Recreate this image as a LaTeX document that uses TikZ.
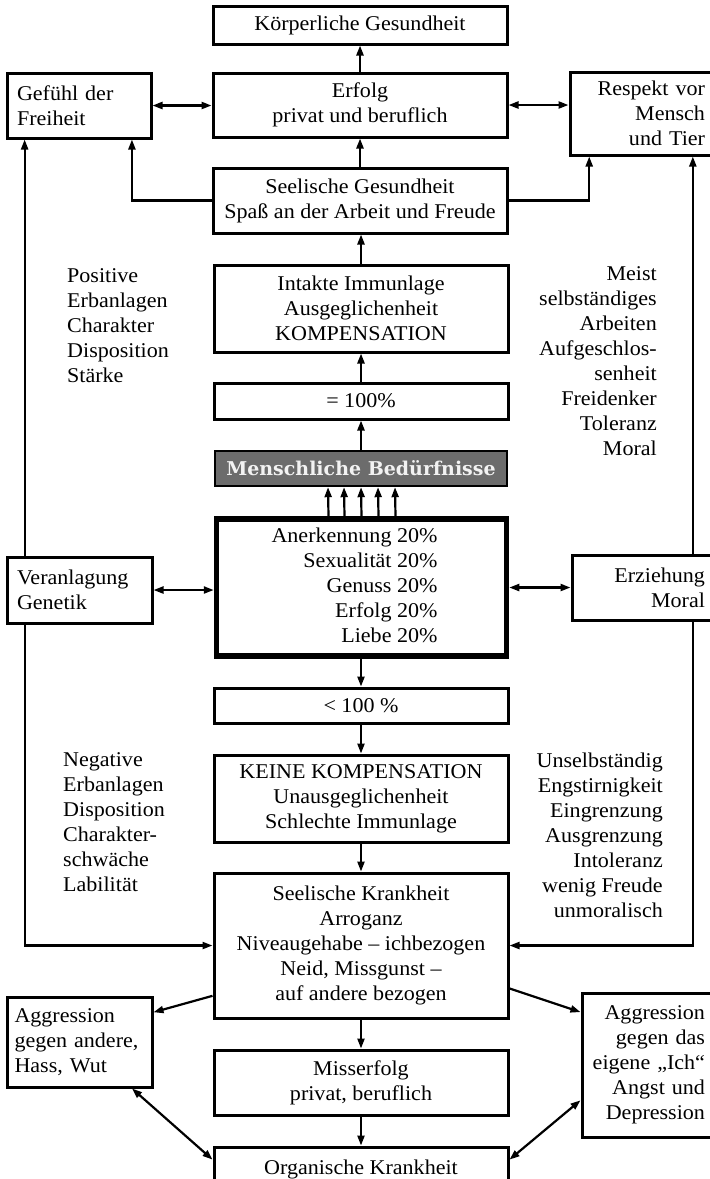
\documentclass[tikz,border=0pt]{standalone}
\usepackage{fontspec}
\usepackage{graphicx}
\setmainfont[FakeStretch=1.05]{Liberation Serif}
\newfontfamily\mbfont{DejaVu Serif}
\usetikzlibrary{arrows.meta,calc}
\definecolor{mbfill}{RGB}{108,108,108}
\definecolor{mbtext}{RGB}{242,242,242}
\newcommand\fsz{\fontsize{21}{25}\selectfont}
\begin{document}
\begin{tikzpicture}[x=1pt,y=-1pt,
  box/.style={draw, line width=3pt, inner sep=0pt, align=center, font=\fsz},
  lbox/.style={align=left},
  rbox/.style={align=right},
  ltxt/.style={anchor=west, align=left, inner sep=0pt, font=\fsz},
  rtxt/.style={anchor=east, align=right, inner sep=0pt, font=\fsz},
  mbox/.style={draw=black, line width=2.4pt, fill=mbfill, minimum width=292pt, minimum height=35pt, inner sep=0pt, text=mbtext, font=\mbfont\bfseries\fontsize{19}{22}\selectfont},
  arr/.style={line width=2.2pt, -{Triangle[length=10pt,width=7pt]}},
  dbl/.style={line width=2.2pt, {Triangle[length=10pt,width=7pt]}-{Triangle[length=10pt,width=7pt]}}
]
\useasboundingbox (0,0) rectangle (710,1179);

% boxes
\node[box, minimum width=294pt, minimum height=38pt] (kg) at (360,25) {Körperliche Gesundheit};
\node[box, minimum width=294pt, minimum height=64pt] (erf) at (360,105) {Erfolg\\privat und beruflich};
\node[box, lbox, minimum width=144pt, minimum height=65pt, text width=124pt] (gef) at (79,105.5) {Gefühl der\\Freiheit};
\node[box, rbox, minimum width=145pt, minimum height=83pt, text width=125pt] (res) at (642.5,113.5) {Respekt vor\\Mensch\\und Tier};
\node[box, minimum width=294pt, minimum height=65pt] (sg) at (360,200.5) {Seelische Gesundheit\\Spaß an der Arbeit und Freude};
\node[box, minimum width=294pt, minimum height=87pt] (imm) at (361,308.5) {Intakte Immunlage\\Ausgeglichenheit\\KOMPENSATION};
\node[box, minimum width=294pt, minimum height=36pt] (eq) at (361,401) {= 100\%};
\node[mbox] (mb) at (361,468.5) {Menschliche Bedürfnisse};
\node[box, line width=5.5pt, minimum width=290pt, minimum height=137pt] (main) at (361.5,587.5) {\begin{tabular}{@{}r@{}}Anerkennung 20\%\\Sexualität 20\%\\Genuss 20\%\\Erfolg 20\%\\Liebe 20\%\end{tabular}\hspace*{14pt}};
\node[box, lbox, minimum width=145pt, minimum height=66pt, text width=125pt] (ver) at (79.5,590) {Veranlagung\\Genetik};
\node[box, rbox, minimum width=143pt, minimum height=65pt, text width=123pt] (erz) at (643.5,587.5) {Erziehung\\Moral};
\node[box, minimum width=294pt, minimum height=35pt] (lt) at (361,705.5) {< 100 \%};
\node[box, minimum width=294pt, minimum height=87pt] (kk) at (361,798.5) {KEINE KOMPENSATION\\Unausgeglichenheit\\Schlechte Immunlage};
\node[box, minimum width=294pt, minimum height=145pt] (sk) at (361,945.5) {Seelische Krankheit\\Arroganz\\Niveaugehabe – ichbezogen\\Neid, Missgunst –\\auf andere bezogen};
\node[box, lbox, minimum width=145pt, minimum height=90pt, text width=130pt] (agl) at (79.5,1042) {Aggression\\gegen andere,\\Hass, Wut};
\node[box, rbox, minimum width=133pt, minimum height=144pt, text width=113pt] (agr) at (648.5,1065) {Aggression\\gegen das\\eigene „Ich“\\Angst und\\Depression};
\node[box, minimum width=294pt, minimum height=65pt] (mis) at (361,1082.5) {Misserfolg\\privat, beruflich};
\node[box, minimum width=294pt, minimum height=44pt] (ok) at (361,1169) {Organische Krankheit};

% free texts
\node[ltxt] (pos) at (67,326) {Positive\\Erbanlagen\\Charakter\\Disposition\\Stärke};
\node[rtxt] (mor) at (657,361) {Meist\\selbständiges\\Arbeiten\\Aufgeschlos-\\senheit\\Freidenker\\Toleranz\\Moral};
\node[ltxt] (neg) at (63,822.5) {Negative\\Erbanlagen\\Disposition\\Charakter-\\schwäche\\Labilität};
\node[rtxt] (uns) at (663,835) {Unselbständig\\Engstirnigkeit\\Eingrenzung\\Ausgrenzung\\Intoleranz\\wenig Freude\\unmoralisch};

% vertical chain
\draw[arr] (erf) -- (kg);
\draw[arr] (sg) -- (erf);
\draw[arr] (imm.north) -- (imm.north |- sg.south);
\draw[arr] (eq) -- (imm);
\draw[arr] (mb) -- (eq);
\foreach \dx in {-33,-17,0,17,34}
  \draw[arr] ([xshift=\dx pt]main.north) -- ([xshift=\dx pt]mb.south);
\draw[arr] (main.south -| lt.north) -- (lt.north);
\draw[arr] (lt) -- (kk);
\draw[arr] (kk) -- (sk);
\draw[arr] (sk) -- (mis);
\draw[arr] (mis) -- (ok);

% side connections top
\draw[arr] (sg.west) -| ($(gef.south west)!0.86!(gef.south east)$);
\draw[arr] (sg.east) -| ($(res.south west)!0.14!(res.south east)$);
\draw[dbl] (gef.east) -- (gef.east -| erf.west);
\draw[dbl] (erf.east) -- (erf.east -| res.west);

% long side lines
\coordinate (L) at ($(gef.south west)!0.13!(gef.south east)$);
\coordinate (R) at ($(res.south west)!0.84!(res.south east)$);
\draw[arr] (ver.north -| L) -- (L);
\draw[arr] (ver.south -| L) |- (sk.west);
\draw[arr] (erz.north -| R) -- (R);
\draw[arr] (erz.south -| R) |- (sk.east);
\draw[dbl] (ver.east) -- (ver.east -| main.west);
\draw[dbl] (main.east |- erz.west) -- (erz.west);

% bottom diagonals
\draw[arr] ($(sk.south west)!0.16!(sk.north west)$) -- ($(agl.north east)!0.18!(agl.south east)$);
\draw[arr] ($(sk.south east)!0.21!(sk.north east)$) -- ($(agr.north west)!0.14!(agr.south west)$);
\draw[dbl] ($(agl.south west)!0.855!(agl.south east)$) -- ($(ok.north west)!0.3!(ok.south west)$);
\draw[dbl] ($(agr.north west)!0.74!(agr.south west)$) -- ($(ok.north east)!0.3!(ok.south east)$);
\end{tikzpicture}
\end{document}
